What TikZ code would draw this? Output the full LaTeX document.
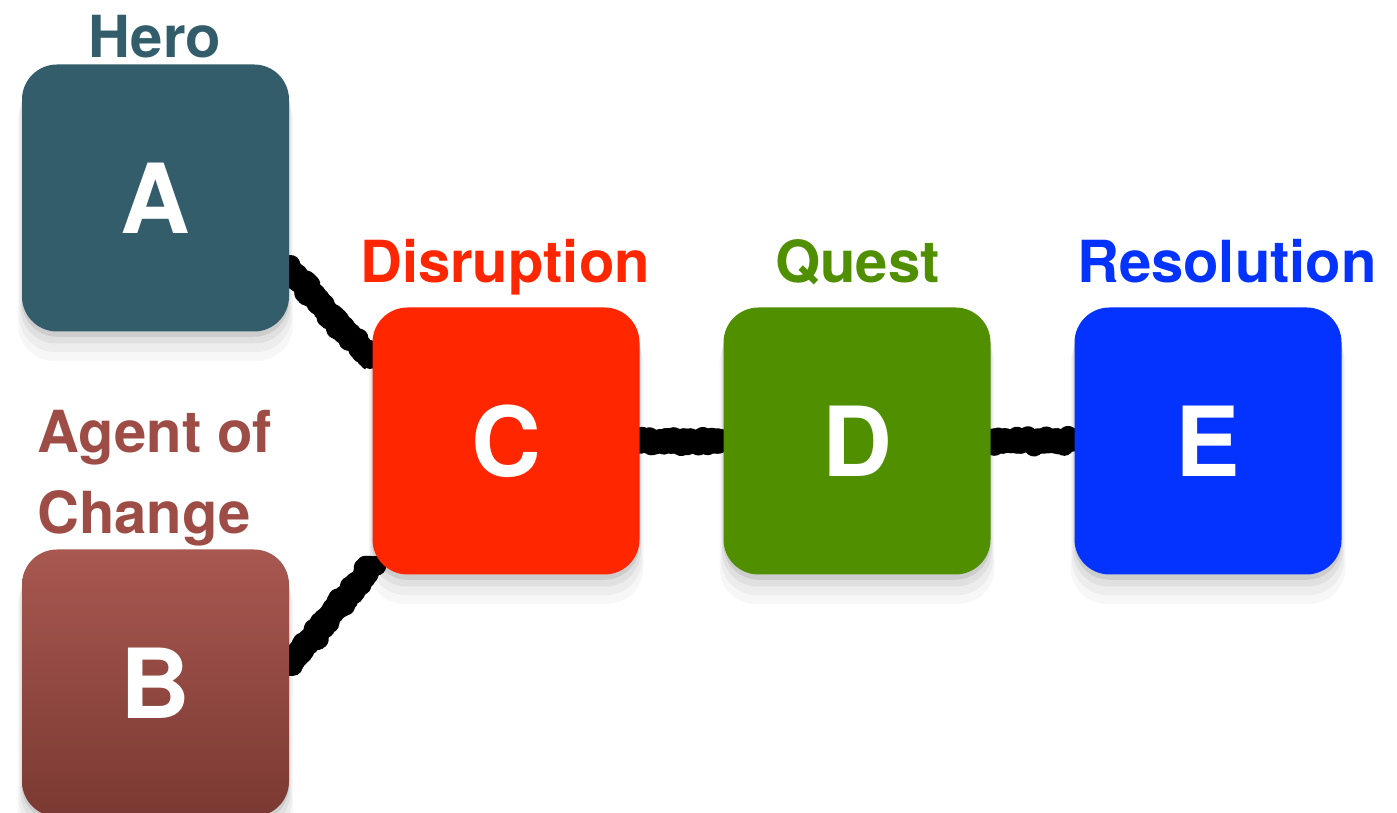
\documentclass[tikz,border=0pt]{standalone}
\usepackage{fontspec}
\setmainfont{TeX Gyre Heros}
\usetikzlibrary{shadows,decorations.pathmorphing,backgrounds}
\definecolor{herocol}{RGB}{51,93,107}
\definecolor{agenttop}{RGB}{168,88,80}
\definecolor{agentbot}{RGB}{122,57,50}
\definecolor{agentcol}{RGB}{158,77,70}
\definecolor{disruptcol}{RGB}{255,38,0}
\definecolor{questcol}{RGB}{79,143,0}
\definecolor{resolvecol}{RGB}{4,51,255}
\begin{document}
\begin{tikzpicture}
    \tikzstyle{softshadow}=[general shadow={fill=black,opacity=.08,shadow yshift=-3pt},
        general shadow={fill=black,opacity=.06,shadow yshift=-6pt,shadow scale=1.01},
        general shadow={fill=black,opacity=.04,shadow yshift=-10pt,shadow scale=1.02},
        general shadow={fill=black,opacity=.03,shadow yshift=-14pt,shadow scale=1.03}]
    \tikzstyle{block}=[softshadow,rounded corners=0.7cm,minimum width=5.34cm,minimum height=5.34cm,inner sep=0pt,text=white,font=\fontsize{55}{60}\selectfont\bfseries]
    \tikzstyle{title}=[font=\fontsize{33}{46}\selectfont\bfseries,anchor=base,inner sep=0pt]
    \tikzstyle{chalk}=[line width=13pt,line join=round,decorate,decoration={random steps,segment length=1pt,amplitude=0.9pt},
        preaction={draw,line width=11pt,line join=round,decorate,decoration={random steps,segment length=0.7pt,amplitude=3pt}}]

    \useasboundingbox (0,0) rectangle (27.94,16.26);

    \node[block,fill=herocol] at (3.11,12.3) (A) {A};
    \node[block,top color=agenttop,bottom color=agentbot] at (3.11,2.6) (B) {B};
    \node[block,fill=disruptcol] at (10.12,7.44) (C) {C};
    \node[block,fill=questcol] at (17.14,7.44) (D) {D};
    \node[block,fill=resolvecol] at (24.16,7.44) (E) {E};

    \node[title,text=herocol] at (3.1,15.1) (hero) {Hero};
    \node[title,text=agentcol,anchor=north west,align=left] at (0.74,8.06) (agent) {Agent of\\Change};
    \node[title,text=disruptcol] at (10.1,10.6) (disruption) {Disruption};
    \node[title,text=questcol] at (17.15,10.6) (quest) {Quest};
    \node[title,text=resolvecol] at (24.54,10.6) (resolution) {Resolution};

    \begin{scope}[on background layer]
        \draw[chalk] (A.-28) -- (C.149);
        \draw[chalk] (B.8) -- (C.223);
        \draw[chalk] (C) -- (D);
        \draw[chalk] (D) -- (E);
    \end{scope}
\end{tikzpicture}
\end{document}
